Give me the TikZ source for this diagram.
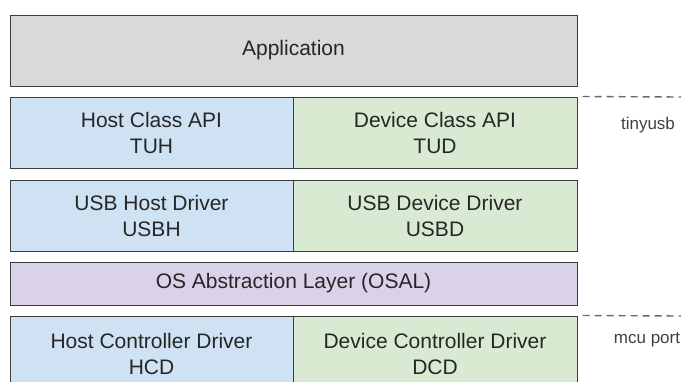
\documentclass[tikz,border=0pt]{standalone}
\usepackage{fontspec}
\setmainfont{Liberation Sans}
\usepackage{tikz}
\usetikzlibrary{positioning}

\definecolor{appgray}{HTML}{D9D9D9}
\definecolor{hostblue}{HTML}{CFE2F3}
\definecolor{devgreen}{HTML}{D9EAD3}
\definecolor{osalpurple}{HTML}{D9D2E9}
\definecolor{edgegray}{HTML}{3C3C3C}
\definecolor{sepgray}{HTML}{6A6A6A}

\begin{document}
\begin{tikzpicture}[x=1pt,y=-1pt]
				\tikzset{layer/.style={shape = rectangle, draw = edgegray, line width = 1pt, inner sep = 0pt, align = center, text = black!85, font = \fontsize{21}{26}\selectfont}}
				\tikzset{sep/.style={draw = sepgray, line width = 1.4pt, dash pattern = on 7pt off 5pt}}
				\tikzset{tag/.style={text = black!75, font = \fontsize{17}{20}\selectfont}}
				\clip (0, 0) rectangle (681, 381);
				%layers
				\node[layer, fill = appgray, minimum width = 567pt, minimum height = 71pt] (app) at (293.5, 50.5) {Application};
				\node[layer, fill = hostblue, minimum width = 283pt, minimum height = 71pt] (tuh) at (151.5, 132.5) {Host Class API\\TUH};
				\node[layer, fill = devgreen, minimum width = 284pt, minimum height = 71pt] (tud) at (435, 132.5) {Device Class API\\TUD};
				\node[layer, fill = hostblue, minimum width = 283pt, minimum height = 71pt] (usbh) at (151.5, 215.5) {USB Host Driver\\USBH};
				\node[layer, fill = devgreen, minimum width = 284pt, minimum height = 71pt] (usbd) at (435, 215.5) {USB Device Driver\\USBD};
				\node[layer, fill = osalpurple, minimum width = 567pt, minimum height = 43pt] (osal) at (293.5, 283.5) {OS Abstraction Layer (OSAL)};
				\node[layer, fill = hostblue, minimum width = 283pt, minimum height = 75pt] (hcd) at (151.5, 353.5) {Host Controller Driver\\HCD};
				\node[layer, fill = devgreen, minimum width = 284pt, minimum height = 75pt] (dcd) at (435, 353.5) {Device Controller Driver\\DCD};
				%labels
				\node[tag] (tinyusb) at (648, 125) {tinyusb};
				\node[tag] (mcuport) at (647, 340) {mcu port};
				%separators
				\coordinate (tinyend) at (681, 97);
				\coordinate (mcuend) at (681, 316);
				\draw[sep] ([xshift = 5pt]tud.north east) -- (tinyend);
				\draw[sep] ([xshift = 5pt]dcd.north east) -- (mcuend);
\end{tikzpicture}
\end{document}
